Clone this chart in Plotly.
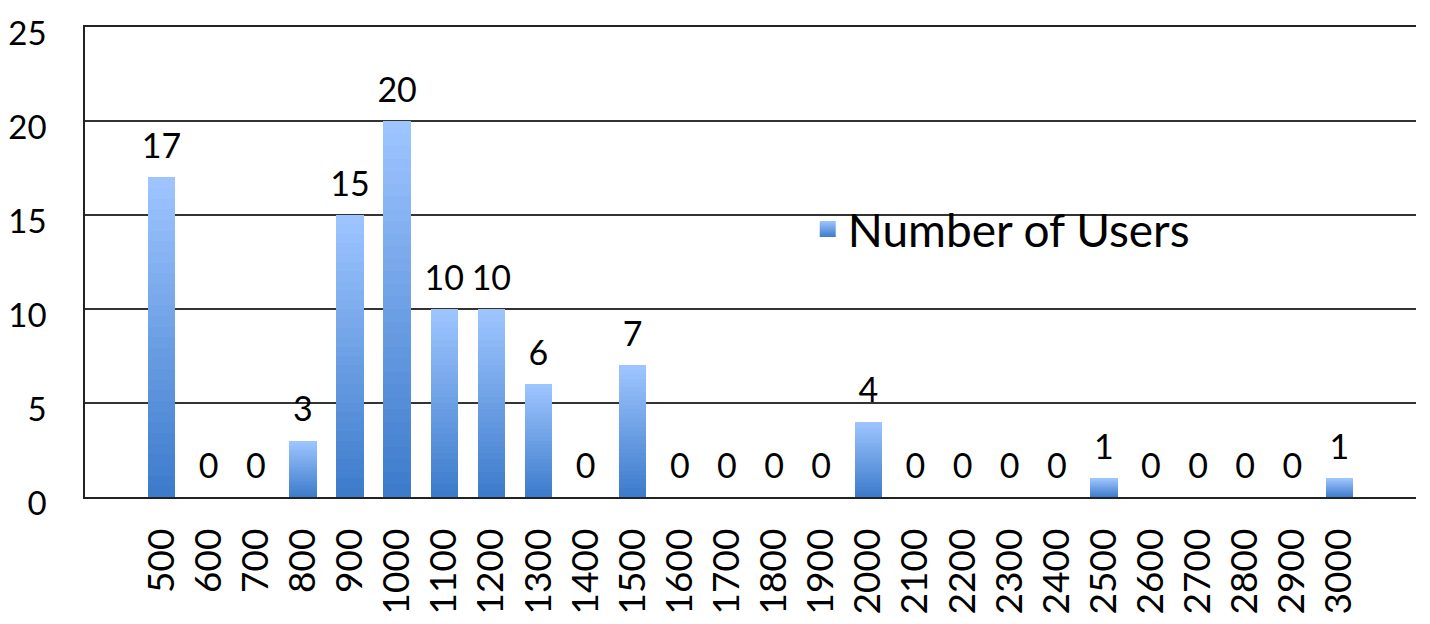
import plotly.graph_objects as go

# datos del histograma
categorias = [str(v) for v in range(500, 3001, 100)]
usuarios = [17, 0, 0, 3, 15, 20, 10, 10, 6, 0, 7, 0, 0, 0, 0, 4, 0, 0, 0, 0, 1, 0, 0, 0, 0, 1]

FUENTE = "Lato, Open Sans, sans-serif"
N_SEG = 30  # tramos para simular el degradado vertical
c_abajo = (61, 124, 203)
c_arriba = (157, 196, 255)

fig = go.Figure()

# barras apiladas en tramos -> degradado oscuro abajo, claro arriba
for i in range(N_SEG):
     t = i / (N_SEG - 1)
     col = tuple(round(a + (b - a) * t) for a, b in zip(c_abajo, c_arriba))
     fig.add_trace(go.Bar(
          x=categorias,
          y=[v / N_SEG for v in usuarios],
          marker=dict(color="rgb(%d,%d,%d)" % col, line=dict(width=0)),
          showlegend=False,
          hoverinfo="skip",
     ))

# etiquetas de valor (marcador transparente para separar el texto de la barra)
fig.add_trace(go.Scatter(
     x=categorias,
     y=usuarios,
     mode="markers+text",
     marker=dict(size=16, color="rgba(0,0,0,0)"),
     text=[str(v) for v in usuarios],
     textposition="top center",
     textfont=dict(size=34, color="black", family=FUENTE),
     showlegend=False,
     hoverinfo="skip",
))

# entrada de leyenda con cuadrado degradado
fig.add_trace(go.Scatter(
     x=[None],
     y=[None],
     mode="markers",
     name="Number of Users",
     marker=dict(symbol="square", size=26, color="rgb(%d,%d,%d)" % c_arriba,
                 gradient=dict(type="vertical", color="rgb(%d,%d,%d)" % c_abajo)),
))

# la página añade 8px de margen al body: se compensa en los márgenes
fig.update_layout(
     width=1430,
     height=624,
     barmode="stack",
     bargap=0.42,
     margin=dict(l=77, r=22, t=19, b=135, autoexpand=False),
     plot_bgcolor="white",
     paper_bgcolor="white",
     font=dict(family=FUENTE, size=34, color="black"),
     legend=dict(x=0.543, y=0.57, xanchor="left", yanchor="middle",
                 bgcolor="rgba(0,0,0,0)", font=dict(size=46), itemsizing="trace"),
     xaxis=dict(
          type="category",
          tickangle=-90,
          showgrid=False,
          showline=True,
          mirror=True,  # línea superior a la altura de 25
          linecolor="#222222",
          linewidth=1.5,
          ticks="",
          automargin=False,
          ticklabelstandoff=15,
          ticklabeloverflow="allow",
          tickfont=dict(size=37),
     ),
     yaxis=dict(
          range=[0, 25],
          tickvals=[0, 5, 10, 15, 20, 25],
          showgrid=True,
          gridcolor="#333333",
          gridwidth=1.5,
          zeroline=False,
          showline=True,
          linecolor="#222222",
          linewidth=1.5,
          ticks="",
          automargin=False,
          ticklabelstandoff=30,
          ticklabelshift=6,  # etiquetas algo por debajo de la línea
          ticklabeloverflow="allow",
          tickfont=dict(size=33),
     ),
)

fig.write_html("out.html")
